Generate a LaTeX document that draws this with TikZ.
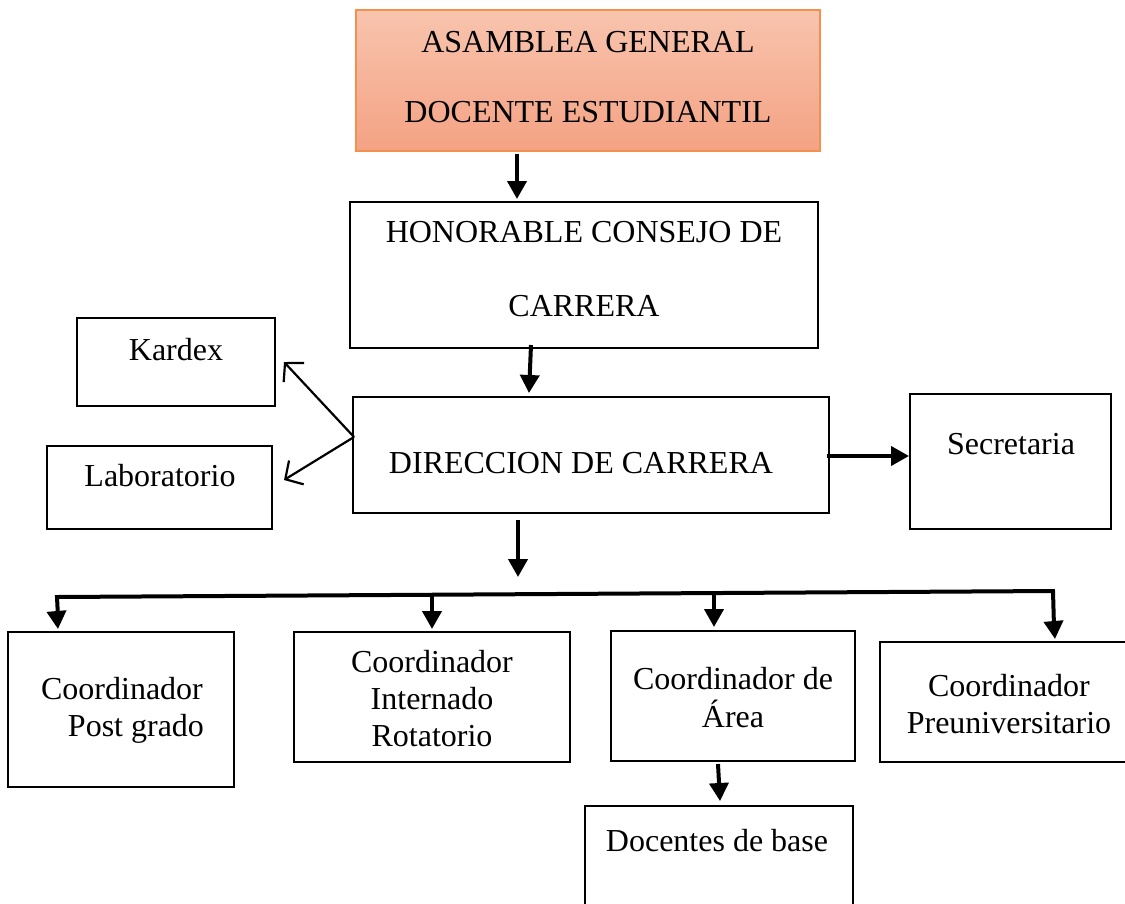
\documentclass[tikz,border=0pt]{standalone}
\usepackage{fontspec}
\setmainfont{Liberation Serif}
\usetikzlibrary{arrows.meta}
\definecolor{salmontop}{HTML}{F8C4AE}
\definecolor{salmonbot}{HTML}{F4A283}
\definecolor{salmonline}{HTML}{F39050}
\tikzset{
  box/.style={draw=black, line width=2pt, rectangle, inner sep=0pt},
  topbox/.style={draw=salmonline, line width=1.5pt, rectangle, inner sep=0pt, top color=salmontop, bottom color=salmonbot},
  txt/.style={font=\fontsize{32}{37}\selectfont, align=center, inner sep=0pt},
  thk/.style={line width=4pt, -{Triangle[length=18pt,width=19pt]}},
  thn/.style={line width=2.2pt, -{Straight Barb[length=13pt,width=28pt,line width=2.2pt]}},
  bus/.style={line width=4pt}
}
\begin{document}
\begin{tikzpicture}[x=1pt,y=-1pt]
\useasboundingbox (0,0) rectangle (1125,903);
\clip (0,0) rectangle (1125,903);
% boxes
\node[topbox, minimum width=464pt, minimum height=141pt] (top) at (588,80.5) {};
\node[box, minimum width=468pt, minimum height=146pt] (hon) at (584,275) {};
\node[box, minimum width=476pt, minimum height=116pt] (dir) at (591,455) {};
\node[box, minimum width=198pt, minimum height=88pt] (kar) at (176,362) {};
\node[box, minimum width=225pt, minimum height=83pt] (lab) at (159.5,487.5) {};
\node[box, minimum width=201pt, minimum height=135pt] (sec) at (1010.5,461.5) {};
\node[box, minimum width=226pt, minimum height=155pt] (post) at (121,709.5) {};
\node[box, minimum width=276pt, minimum height=130pt] (intern) at (432,697) {};
\node[box, minimum width=244pt, minimum height=130pt] (area) at (733,696) {};
\node[box, minimum width=246pt, minimum height=120pt] (preu) at (1003,702) {};
\node[box, minimum width=268pt, minimum height=116pt] (doc) at (719,864) {};
% texts
\node[txt] (ttop) at (588,77) {ASAMBLEA GENERAL\\[33pt]DOCENTE ESTUDIANTIL};
\node[txt] (thon) at (584,269) {HONORABLE CONSEJO DE\\[37pt]CARRERA};
\node[txt] (tdir) at (581,463) {DIRECCION DE CARRERA};
\node[txt] (tkar) at (176,350) {Kardex};
\node[txt] (tlab) at (160,476) {Laboratorio};
\node[txt] (tsec) at (1011,444) {Secretaria};
\node[txt] (tpost) at (122,710) {Coordinador\\\hspace*{28pt}Post grado};
\node[txt] (tintern) at (432,699) {Coordinador\\Internado\\Rotatorio};
\node[txt] (tarea) at (733,698) {Coordinador de\\[1pt]Área};
\node[txt] (tpreu) at (1009,704) {Coordinador\\Preuniversitario};
\node[txt] (tdoc) at (717,841) {Docentes de base};
% bus coordinates
\coordinate (busin) at (518,577);
\coordinate (busL) at (57,597);
\coordinate (busR) at (1053,591);
\coordinate (busA) at (432,594.5);
\coordinate (busB) at (714,593);
% connectors
\draw[thk] ([xshift=-71pt,yshift=-2pt]top.south) -- ([xshift=-67pt,yshift=2pt]hon.north);
\draw[thk] ([xshift=-53pt,yshift=4pt]hon.south) -- ([xshift=-62pt,yshift=3pt]dir.north);
\draw[thn] ([xshift=2pt,yshift=18pt]dir.west) -- ([xshift=8pt]kar.east);
\draw[thn] ([xshift=2pt,yshift=18pt]dir.west) -- ([xshift=11pt,yshift=7.5pt]lab.east);
\draw[thk] ([xshift=-3pt,yshift=-1pt]dir.east) -- ([yshift=5.5pt]sec.west);
\draw[thk] ([xshift=-73pt,yshift=-6pt]dir.south) -- (busin);
\draw[bus, line join=miter] ([xshift=-63pt,yshift=14pt]post.north) -- (busL) -- (busR) -- ([xshift=51pt,yshift=14pt]preu.north);
\draw[thk] ([xshift=-64pt,yshift=14pt]post.north) -- ([xshift=-63pt,yshift=2pt]post.north);
\draw[thk] ([xshift=51pt,yshift=14pt]preu.north) -- ([xshift=52pt,yshift=2pt]preu.north);
\draw[thk] (busA) -- ([yshift=2pt]intern.north);
\draw[thk] (busB) -- ([xshift=-19pt,yshift=3pt]area.north);
\draw[thk] ([xshift=-15pt,yshift=-2pt]area.south) -- ([xshift=1pt,yshift=4pt]doc.north);
\end{tikzpicture}
\end{document}
